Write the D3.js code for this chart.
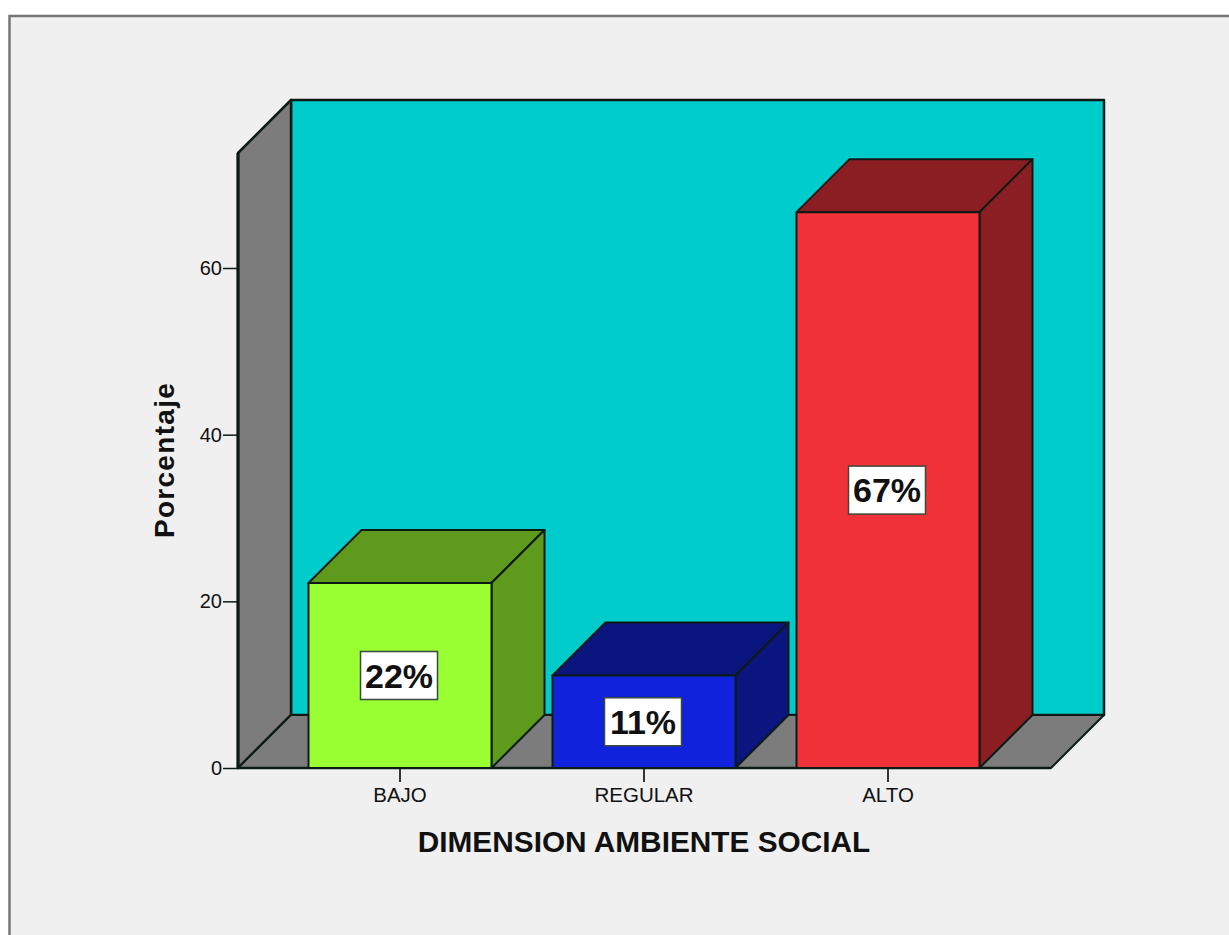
<!DOCTYPE html>
<html><head><meta charset="utf-8">
<script src="https://cdn.jsdelivr.net/npm/d3@7"></script>
<style>html,body{margin:0;padding:0;background:#fff}svg{display:block}text{font-family:"Liberation Sans",Arial,sans-serif;fill:#111}</style>
</head><body><svg id="c" width="1229" height="935"></svg>
<script>
const categories = ["BAJO","REGULAR","ALTO"];
const percentages = [22.2, 11.1, 66.7];
const percentLabels = ["22%","11%","67%"];
const frontColors = ["#99ff33","#1122dd","#f03238"];
const sideColors = ["#5e9a1c","#0a1580","#8b1e22"];
const yTicks = [0,20,40,60];
const yTitle = "Porcentaje";
const xTitle = "DIMENSION AMBIENTE SOCIAL";

const svg = d3.select("#c");
const ink = "#0c1a16";
const dx = 53, dy = -53;
const L = 238, R = 1051, B = 768, T = 153;

svg.append("rect").attr("x",9).attr("y",16).attr("width",1220).attr("height",919).attr("fill","#f0f0f0");
svg.append("path").attr("d","M9.5,935V16H1229").attr("fill","none").attr("stroke","#767676").attr("stroke-width",2.5);

const y = d3.scaleLinear().domain([0,60]).range([B,268]);
const x = d3.scaleBand().domain(categories).range([278,1010]).paddingInner(0.25).paddingOuter(0.125);

const poly = (pts,fill,sw=2) => svg.append("polygon")
  .attr("points",pts.map(p=>p.join(",")).join(" "))
  .attr("fill",fill).attr("stroke",ink).attr("stroke-width",sw).attr("stroke-linejoin","round");

poly([[L+dx,T+dy],[R+dx,T+dy],[R+dx,B+dy],[L+dx,B+dy]],"#00cccc",2.5);
poly([[L,T],[L+dx,T+dy],[L+dx,B+dy],[L,B]],"#7c7c7c",2.5);
poly([[L,B],[L+dx,B+dy],[R+dx,B+dy],[R,B]],"#7c7c7c",2);
svg.append("line").attr("x1",L).attr("x2",L).attr("y1",T).attr("y2",B).attr("stroke",ink).attr("stroke-width",3);
svg.append("line").attr("x1",L).attr("x2",R).attr("y1",B).attr("y2",B).attr("stroke",ink).attr("stroke-width",2.5);

const ga = svg.append("g").attr("transform",`translate(${L},0)`)
  .call(d3.axisLeft(y).tickValues(yTicks).tickSize(15).tickPadding(1));
ga.select(".domain").remove();
ga.selectAll("line").attr("stroke",ink).attr("stroke-width",1.5);
ga.selectAll("text").style("font-size","20px").attr("fill","#222");

const gx = svg.append("g").attr("transform",`translate(0,${B})`)
  .call(d3.axisBottom(x).tickSize(14).tickPadding(5));
gx.select(".domain").remove();
gx.selectAll("line").attr("stroke","#333").attr("stroke-width",2);
gx.selectAll("text").style("font-size","20.5px").attr("fill","#222");

categories.forEach((c,i)=>{
  const x0 = x(c), x1 = x0 + x.bandwidth(), yt = y(percentages[i]);
  poly([[x0,yt],[x0+dx,yt+dy],[x1+dx,yt+dy],[x1,yt]],sideColors[i]);
  poly([[x1,yt],[x1+dx,yt+dy],[x1+dx,B+dy],[x1,B]],sideColors[i]);
  poly([[x0,yt],[x1,yt],[x1,B],[x0,B]],frontColors[i]);
  const cx = x0 + x.bandwidth()/2, cy = (yt+B)/2;
  const w = 77, h = 48;
  svg.append("rect").attr("x",cx-w/2-1).attr("y",cy-h/2).attr("width",w).attr("height",h)
    .attr("fill","#fff").attr("stroke","#3a4a3a").attr("stroke-width",1.5);
  svg.append("text").attr("x",cx-1).attr("y",cy+12).attr("text-anchor","middle")
    .style("font-size","34px").style("font-weight","700").text(percentLabels[i]);
});

svg.append("text").attr("transform","translate(174,460) rotate(-90)").attr("text-anchor","middle")
  .style("font-size","28px").style("font-weight","700").style("letter-spacing","1.3px").text(yTitle);
svg.append("text").attr("x",644).attr("y",852).attr("text-anchor","middle")
  .style("font-size","29.8px").style("font-weight","700").text(xTitle);
</script></body></html>
